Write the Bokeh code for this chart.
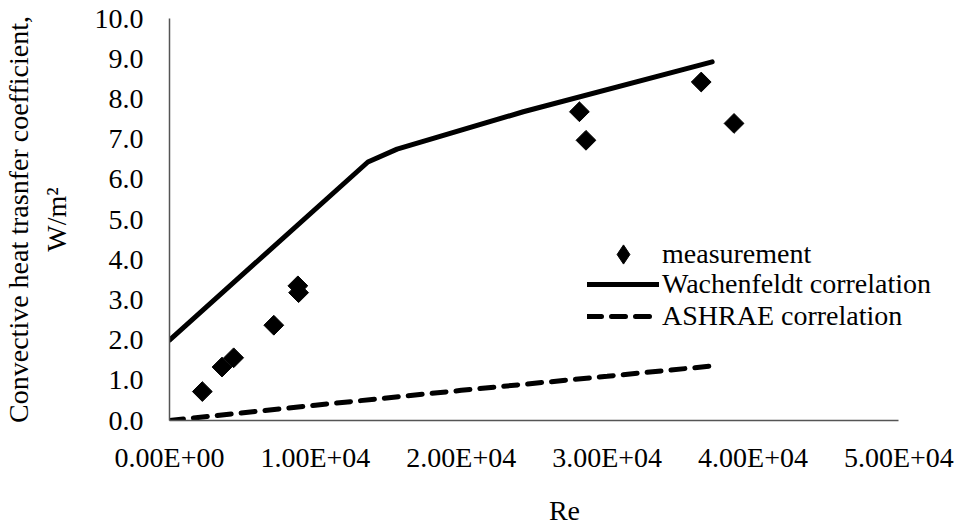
import numpy as np
from bokeh.plotting import figure
from bokeh.models import Range1d, FixedTicker, Legend, LegendItem
from bokeh.embed import file_html
from bokeh.resources import INLINE

re_meas = [2250, 3600, 4400, 7150, 8800, 8850, 28100, 28550, 36450, 38700]
h_meas = [0.72, 1.33, 1.56, 2.37, 3.35, 3.18, 7.68, 6.97, 8.42, 7.39]

# Wachenfeldt correlation
re_wach = [0, 13600, 15600, 24250, 37200]
h_wach = [2.0, 6.43, 6.75, 7.68, 8.92]

# ASHRAE correlation
re_ashrae = [0, 10000, 20000, 30000, 37000]
h_ashrae = [0.0, 0.38, 0.75, 1.10, 1.35]

x_ticks = [0, 10000, 20000, 30000, 40000, 50000]
x_tick_labels = ["0.00E+00", "1.00E+04", "2.00E+04", "3.00E+04", "4.00E+04", "5.00E+04"]
y_ticks = [0, 1, 2, 3, 4, 5, 6, 7, 8, 9, 10]
y_tick_labels = ["0.0", "1.0", "2.0", "3.0", "4.0", "5.0", "6.0", "7.0", "8.0", "9.0", "10.0"]

FONT = "Liberation Serif"

# layout: axis runs from x=164 px to x=898 px; the frame is extended to the right
# edge of the canvas so the legend (which overhangs the axis end) is not clipped.
W, H = 959, 528
LEFT, AXIS_RIGHT, TOP, BOTTOM = 164, 898, 18, 107
x_axis_max = x_ticks[-1]
x_view_max = x_axis_max * (W - LEFT) / (AXIS_RIGHT - LEFT)

p = figure(width=W, height=H, output_backend="svg", toolbar_location=None,
           x_range=Range1d(0, x_view_max), y_range=Range1d(y_ticks[0], y_ticks[-1]),
           min_border_left=LEFT, min_border_right=0, min_border_top=TOP, min_border_bottom=BOTTOM)
p.outline_line_color = None
p.xgrid.grid_line_color = None
p.ygrid.grid_line_color = None
p.background_fill_color = "white"
p.border_fill_color = "white"

for ax in (p.xaxis[0], p.yaxis[0]):
    ax.axis_line_color = "#555555"
    ax.axis_line_width = 1.5
    ax.major_tick_line_color = None
    ax.minor_tick_line_color = None
    ax.major_tick_out = 0
    ax.major_tick_in = 0
    ax.major_label_text_font = FONT
    ax.major_label_text_font_size = "28px"
    ax.major_label_text_color = "black"
    ax.axis_label_text_font = FONT
    ax.axis_label_text_font_size = "28px"
    ax.axis_label_text_font_style = "normal"
    ax.axis_label_text_color = "black"

p.xaxis.bounds = (0, x_axis_max)
p.xaxis.ticker = FixedTicker(ticks=x_ticks)
p.xaxis.major_label_overrides = {t: l for t, l in zip(x_ticks, x_tick_labels)}
p.yaxis.ticker = FixedTicker(ticks=y_ticks)
p.yaxis.major_label_overrides = {t: l for t, l in zip(y_ticks, y_tick_labels)}
p.xaxis.major_label_standoff = 21
p.yaxis.major_label_standoff = 26
p.xaxis.axis_label = "Re"
p.xaxis.axis_label_standoff = 19
p.yaxis.axis_label = "Convective heat trasnfer coefficient,\nW/m\u00b2"
p.yaxis.axis_label_standoff = 20

r_ash = p.line(re_ashrae, h_ashrae, line_width=5, color="black", line_dash="14 10", line_cap="round")
r_wach = p.line(re_wach, h_wach, line_width=5, color="black", line_join="round", line_cap="round")
r_meas = p.scatter(re_meas, h_meas, marker="square", size=14, angle=np.pi / 4, color="black")
# legend symbol for the measurement series (diamond shape like the original)
r_meas_key = p.scatter(re_meas, h_meas, marker="diamond", color="black", visible=False)

legend_kw = dict(border_line_color=None, background_fill_alpha=0,
                 label_text_font=FONT, label_text_font_size="28px", label_text_color="black",
                 glyph_width=72, spacing=0, label_standoff=3, padding=0, margin=0)

legend1 = Legend(items=[LegendItem(label="measurement", renderers=[r_meas_key])],
                 location=(418, 142), glyph_height=48, label_height=48, **legend_kw)
legend2 = Legend(items=[LegendItem(label="Wachenfeldt correlation", renderers=[r_wach]),
                        LegendItem(label="ASHRAE correlation", renderers=[r_ash])],
                 location=(418, 88), glyph_height=30, label_height=30, **legend_kw)
p.add_layout(legend1)
p.add_layout(legend2)

open("out.html", "w").write(file_html(p, INLINE))
